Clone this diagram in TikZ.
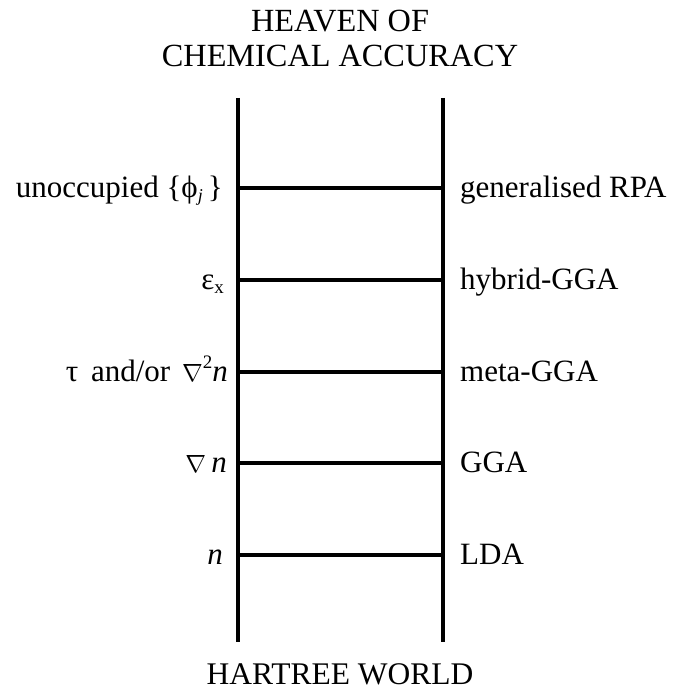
\documentclass[tikz,border=0pt]{standalone}
\usepackage{fontspec}
\setmainfont{Liberation Serif}
\begin{document}
\begin{tikzpicture}[x=1pt,y=-1pt,
  rail/.style={line width=4pt},
  rung/.style={line width=3.5pt},
  lab/.style={font=\fontsize{31}{35}\selectfont, inner sep=0pt},
  big/.style={font=\fontsize{32.3}{35}\selectfont, inner sep=0pt, align=center}]
\useasboundingbox (0,0) rectangle (679,690);
% rails
\coordinate (Lt) at (238,98);
\coordinate (Lb) at (238,642);
\coordinate (Rt) at (443,98);
\coordinate (Rb) at (443,642);
\draw[rail] (Lt) -- (Lb);
\draw[rail] (Rt) -- (Rb);
% rungs
\foreach \i/\y in {1/188,2/280,3/372,4/463,5/555}{
  \coordinate (l\i) at (238,\y);
  \coordinate (r\i) at (443,\y);
  \draw[rung] (l\i) -- (r\i);
}
% titles
\node[big, anchor=base] (h1) at (340,32) {HEAVEN OF};
\node[big, anchor=base] (h2) at (340,67) {CHEMICAL ACCURACY};
\node[big, anchor=base, font=\fontsize{31.5}{35}\selectfont] (hw) at (340,684) {HARTREE WORLD};
% right labels
\node[lab, anchor=base west] (g5) at (460,197) {generalised RPA};
\node[lab, anchor=base west] (g4) at (460,289) {hybrid-GGA};
\node[lab, anchor=base west] (g3) at (460,381) {meta-GGA};
\node[lab, anchor=base west] (g2) at (460,472) {GGA};
\node[lab, anchor=base west] (g1) at (460,564) {LDA};
% left labels
\node[lab, anchor=base east] (i5) at (223,197) {unoccupied \{ϕ\raisebox{-0.35ex}{\fontsize{18}{18}\selectfont\itshape j}\,\}};
\node[lab, anchor=base east] (i4) at (224,289) {ε\raisebox{-0.3ex}{\fontsize{19}{19}\selectfont x}};
\node[lab, anchor=base east] (i3) at (228,381) {τ\hspace{5pt} and/or\hspace{4pt} $\nabla$\raisebox{0.9ex}{\fontsize{19}{19}\selectfont 2}\textit{n}};
\node[lab, anchor=base east] (i2) at (227,472) {$\nabla$\,\textit{n}};
\node[lab, anchor=base east] (i1) at (223,564) {\textit{n}};
\end{tikzpicture}
\end{document}
